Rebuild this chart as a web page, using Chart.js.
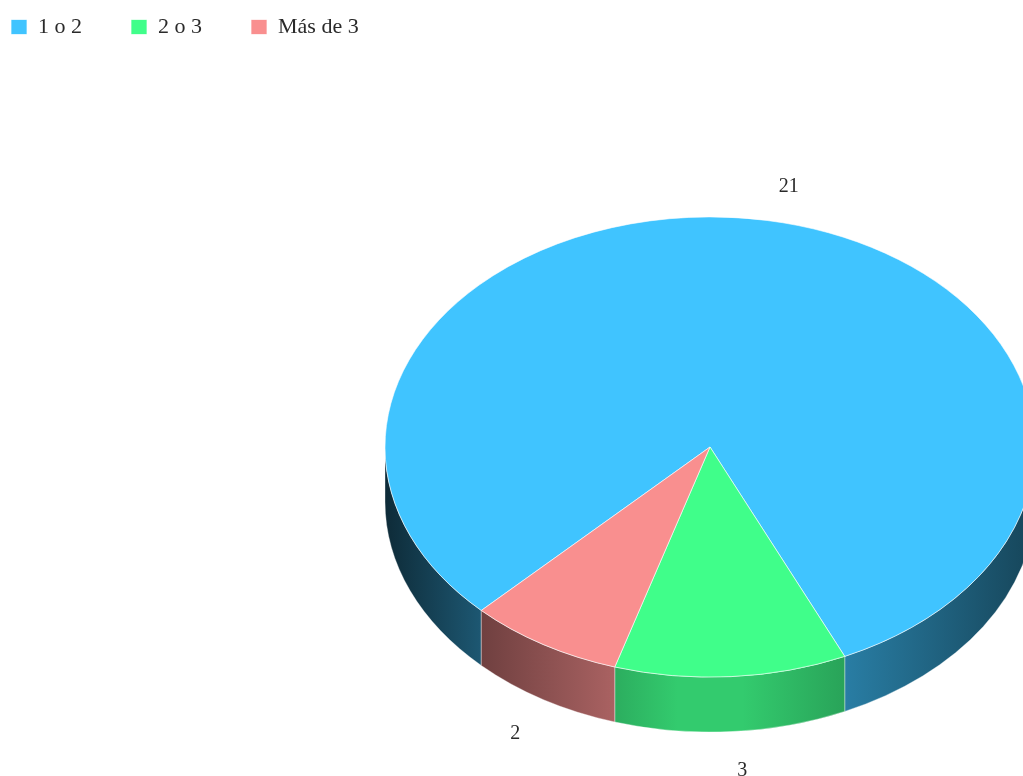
<!DOCTYPE html>
<html>
<head>
<meta charset="utf-8">
<script src="https://cdn.jsdelivr.net/npm/chart.js@4/dist/chart.umd.min.js"></script>
<style>
html, body { margin: 0; padding: 0; background: #fff; overflow: hidden; }
#wrap { width: 1023px; height: 776px; }
</style>
</head>
<body>
<div id="wrap"><canvas id="Chart" width="1023" height="776"></canvas></div>
<script>
let labels = ["1 o 2", "2 o 3", "Más de 3"]
let values = [21, 3, 2]
let colors = ["#40c4ff", "#40fe8a", "#f98f8f"]

// where the pie sits and how it is tilted
let pieX = 710
let pieY = 447
let pieR = 325
let tilt = 0.708
let depth = 55
let rotation = 224.73

// light across the rim, left to right (fraction of the slice colour)
let shade = [[0, 0.22], [0.15, 0.45], [0.3, 0.62], [0.45, 0.8], [0.55, 0.8], [0.72, 0.63], [1, 0.35]]

let legendX = 11
let legendY = 16
let legendGap = 49

function darken(hex, f){
	let n = parseInt(hex.slice(1), 16)
	let r = (n >> 16) & 255, g = (n >> 8) & 255, b = n & 255
	return "rgb(" + Math.round(r*f) + "," + Math.round(g*f) + "," + Math.round(b*f) + ")"
}

// pieces of [s,e] that fall on the front half of the rim (0..PI)
function frontParts(s, e){
	let TAU = Math.PI * 2
	let k = Math.floor(s / TAU)
	s -= k * TAU
	e -= k * TAU
	let parts = []
	let a = Math.max(s, 0), b = Math.min(e, Math.PI)
	if (b > a) parts.push([a, b])
	a = Math.max(s, TAU); b = Math.min(e, TAU + Math.PI)
	if (b > a) parts.push([a, b])
	return parts
}

let pie3d = {
	id: "pie3d",
	afterLayout(chart){
		chart.chartArea = {
			left: pieX - pieR, right: pieX + pieR,
			top: pieY - pieR, bottom: pieY + pieR,
			width: pieR * 2, height: pieR * 2
		}
		let lg = chart.legend
		lg.left = legendX - legendGap
		lg.top = legendY - legendGap
	},
	beforeDatasetsDraw(chart){
		let ctx = chart.ctx
		let arcs = chart.getDatasetMeta(0).data
		arcs.forEach((arc, i) => {
			let p = arc.getProps(["x", "y", "startAngle", "endAngle", "outerRadius"])
			let r = p.outerRadius
			let grad = ctx.createLinearGradient(p.x - r, 0, p.x + r, 0)
			shade.forEach(s => grad.addColorStop(s[0], darken(colors[i], s[1])))
			frontParts(p.startAngle, p.endAngle).forEach(part => {
				ctx.beginPath()
				ctx.ellipse(p.x, p.y, r, r * tilt, 0, part[0], part[1])
				ctx.ellipse(p.x, p.y + depth, r, r * tilt, 0, part[1], part[0], true)
				ctx.closePath()
				ctx.fillStyle = grad
				ctx.fill()
				ctx.strokeStyle = "rgba(255,255,255,0.35)"
				ctx.lineWidth = 1
				ctx.stroke()
			})
		})
		// flatten the top face
		let c = arcs[0]
		ctx.save()
		ctx.translate(0, c.y)
		ctx.scale(1, tilt)
		ctx.translate(0, -c.y)
	},
	afterDatasetsDraw(chart){
		let ctx = chart.ctx
		ctx.restore()
		let arcs = chart.getDatasetMeta(0).data
		ctx.save()
		ctx.font = "20px 'Liberation Serif'"
		ctx.fillStyle = "#2a2a2a"
		ctx.textBaseline = "middle"
		arcs.forEach((arc, i) => {
			let p = arc.getProps(["x", "y", "startAngle", "endAngle", "outerRadius"])
			let mid = (p.startAngle + p.endAngle) / 2
			let rr = p.outerRadius * 1.15
			let cx = p.x + Math.cos(mid) * rr
			let cy = p.y + Math.sin(mid) * rr * tilt + (Math.sin(mid) > 0 ? 60 : 0)
			ctx.textAlign = Math.cos(mid) >= 0 ? "left" : "right"
			ctx.fillText(String(values[i]), cx + (Math.cos(mid) >= 0 ? 3 : 2), cy)
		})
		ctx.restore()
	}
}

new Chart("Chart", {
	type: "pie",
	data: {
		labels: labels,
		datasets: [{
			data: values,
			backgroundColor: colors,
			borderColor: "rgba(255,255,255,0.7)",
			borderWidth: 1
		}]
	},
	options: {
		responsive: false,
		animation: false,
		rotation: rotation,
		radius: pieR,
		events: [],
		plugins: {
			legend: {
				position: "top",
				align: "start",
				labels: {
					boxWidth: 16,
					boxHeight: 15,
					padding: legendGap,
					color: "#2a2a2a",
					font: { family: "'Liberation Serif'", size: 22 }
				}
			},
			tooltip: { enabled: false }
		}
	},
	plugins: [pie3d]
})
</script>
</body>
</html>
